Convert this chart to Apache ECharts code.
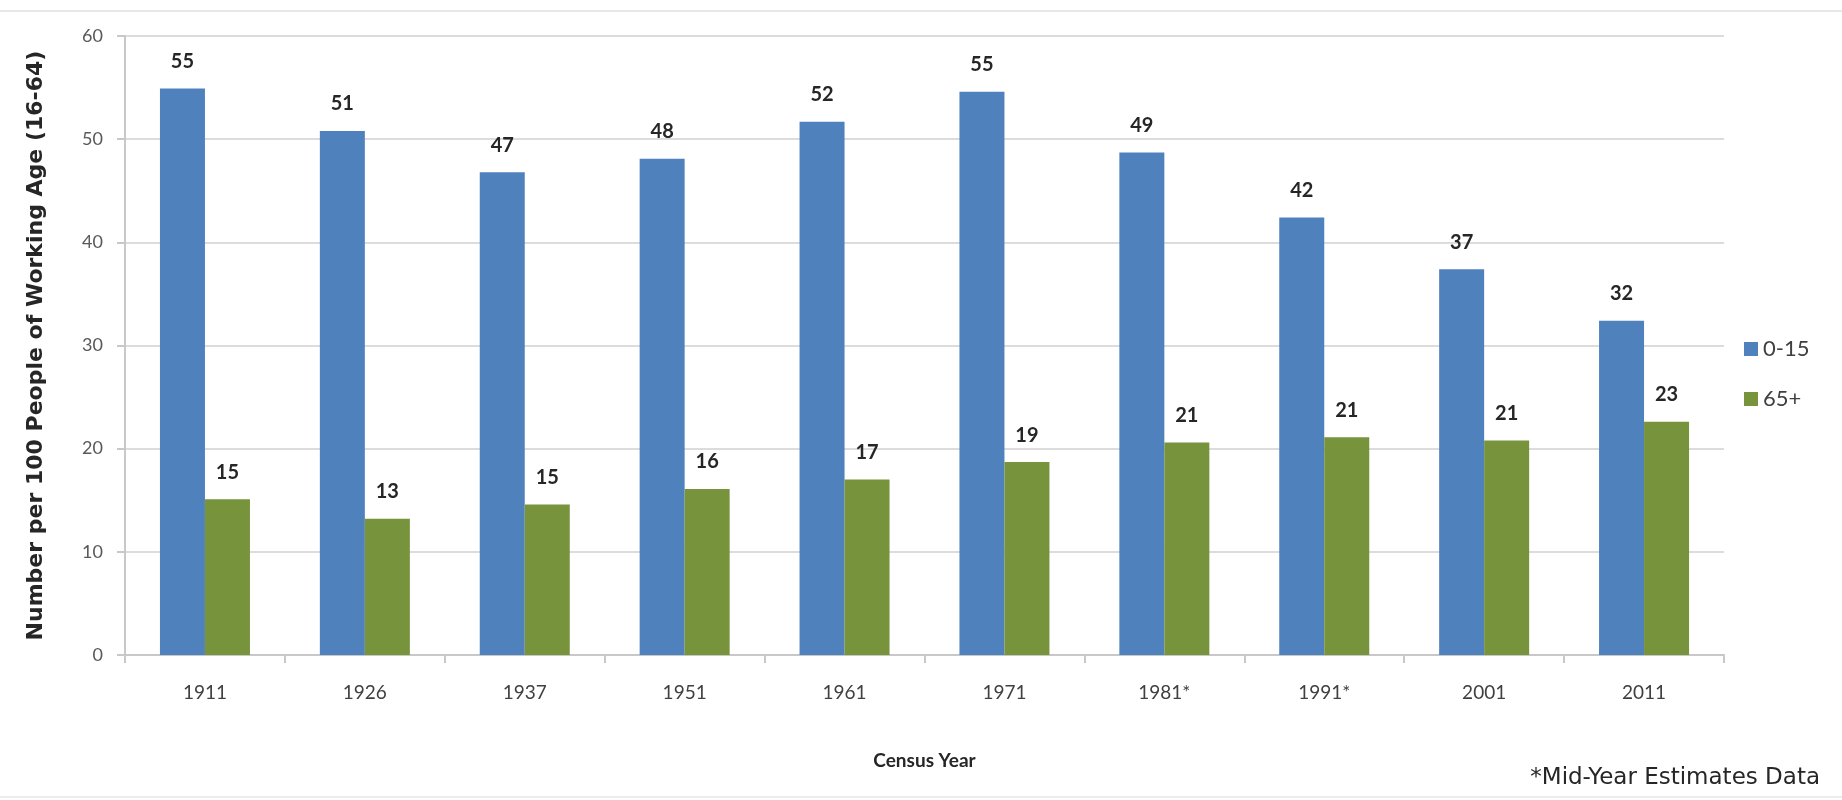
<!DOCTYPE html>
<html>
<head>
<meta charset="utf-8">
<title>Dependency ratio by census year</title>
<script src="https://cdn.jsdelivr.net/npm/echarts@6/dist/echarts.min.js"></script>
<style>
  html, body { margin: 0; padding: 0; background: #fff; }
  #chart { width: 1842px; height: 800px; }
</style>
</head>
<body>
<div id="chart"></div>
<script>
// census years (x axis)
const years = ['1911', '1926', '1937', '1951', '1961', '1971', '1981*', '1991*', '2001', '2011'];
// 0-15 per 100 working age
const young = [54.9, 50.8, 46.8, 48.1, 51.7, 54.6, 48.7, 42.4, 37.4, 32.4];
// 65+ per 100 working age
const old = [15.1, 13.2, 14.6, 16.1, 17.0, 18.7, 20.6, 21.1, 20.8, 22.6];
const yTicks = [0, 10, 20, 30, 40, 50, 60];

const fontFam = 'Lato, "Open Sans", sans-serif';

let myChart = echarts.init(document.getElementById('chart'));

const barLabel = {
  show: true,
  position: 'top',
  distance: 17,
  fontFamily: fontFam,
  fontSize: 20,
  fontWeight: 'bold',
  color: '#262626',
  formatter: p => Math.round(p.value)
};

myChart.setOption({
  animation: false,
  backgroundColor: '#fff',
  grid: { left: 125, right: 118, top: 36, bottom: 145 },
  legend: {
    orient: 'vertical',
    left: 1739,
    top: 333,
    itemWidth: 14,
    itemHeight: 14,
    itemGap: 28,
    icon: 'rect',
    textStyle: { fontFamily: fontFam, fontSize: 22, color: '#404040' },
    data: ['0-15', '65+']
  },
  xAxis: {
    type: 'category',
    data: years,
    name: 'Census Year',
    nameLocation: 'middle',
    nameGap: 96,
    nameTextStyle: { fontFamily: fontFam, fontSize: 19, fontWeight: 'bold', color: '#262626' },
    axisLine: { lineStyle: { color: '#c8c8c8', width: 2 } },
    axisTick: { show: true, length: 8, lineStyle: { color: '#c8c8c8', width: 2 } },
    axisLabel: { margin: 28, fontFamily: fontFam, fontSize: 19, color: '#404040' }
  },
  yAxis: {
    type: 'value',
    min: yTicks[0],
    max: yTicks[yTicks.length - 1],
    interval: 10,
    name: 'Number per 100 People of Working Age (16-64)',
    nameLocation: 'middle',
    nameGap: 78,
    nameRotate: 90,
    nameTextStyle: { fontFamily: '"DejaVu Sans", sans-serif', fontSize: 22, fontWeight: 'bold', color: '#262626' },
    axisLine: { show: true, lineStyle: { color: '#c8c8c8', width: 2 } },
    axisTick: { show: true, length: 8, lineStyle: { color: '#c8c8c8', width: 2 } },
    axisLabel: { margin: 22, fontFamily: fontFam, fontSize: 18, color: '#595959' },
    splitLine: { lineStyle: { color: '#dcdcdc', width: 2 } }
  },
  series: [
    {
      name: '0-15',
      type: 'bar',
      barWidth: 45,
      barGap: '0%',
      itemStyle: { color: '#4f81bd' },
      label: barLabel,
      data: young
    },
    {
      name: '65+',
      type: 'bar',
      barWidth: 45,
      barGap: '0%',
      itemStyle: { color: '#77933c' },
      label: barLabel,
      data: old
    }
  ],
  graphic: [
    {
      type: 'text',
      right: 22,
      top: 767,
      style: {
        text: '*Mid-Year Estimates Data',
        fontFamily: '"DejaVu Sans", sans-serif',
        fontSize: 23,
        fill: '#262626'
      }
    },
    {
      type: 'rect',
      left: 0, top: 10,
      shape: { width: 1842, height: 2 },
      style: { fill: '#e8e8e8' }
    },
    {
      type: 'rect',
      left: 0, top: 796,
      shape: { width: 1842, height: 2 },
      style: { fill: '#ececec' }
    }
  ]
});
</script>
</body>
</html>
